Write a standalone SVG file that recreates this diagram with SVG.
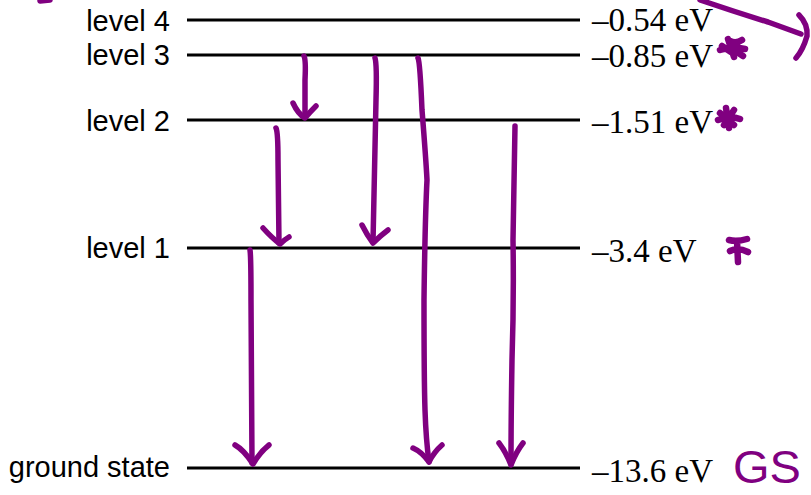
<svg xmlns="http://www.w3.org/2000/svg" width="811" height="495" viewBox="0 0 811 495">
<style>
.lvl{stroke:#000;stroke-width:3;}
.lab{font-family:"Liberation Sans",Arial,sans-serif;font-size:29px;fill:#000;text-anchor:end;}
.en{font-family:"Liberation Serif","Times New Roman",serif;font-size:33px;fill:#000;}
.ink{fill:none;stroke:#800080;stroke-width:5.5;stroke-linecap:round;stroke-linejoin:round;}
.star{fill:none;stroke:#800080;stroke-width:6.5;stroke-linecap:round;stroke-linejoin:round;}
.gs{font-family:"Liberation Sans",Arial,sans-serif;font-size:47px;fill:#800080;}
</style>
<rect width="811" height="495" fill="#fff"/>
<g id="level4"><line class="lvl" x1="187" y1="20" x2="580" y2="20"/><text class="lab" x="170" y="31">level 4</text><text class="en" x="592" y="31">–0.54 eV</text></g>
<g id="level3"><line class="lvl" x1="187" y1="55" x2="580" y2="55"/><text class="lab" x="170" y="65">level 3</text><text class="en" x="592" y="67">–0.85 eV</text></g>
<g id="level2"><line class="lvl" x1="187" y1="120" x2="580" y2="120"/><text class="lab" x="170" y="131">level 2</text><text class="en" x="592" y="133">–1.51 eV</text></g>
<g id="level1"><line class="lvl" x1="187" y1="248" x2="580" y2="248"/><text class="lab" x="170" y="258">level 1</text><text class="en" x="592" y="262">–3.4 eV</text></g>
<g id="ground"><line class="lvl" x1="187" y1="468" x2="580" y2="468"/><text class="lab" x="170" y="477">ground state</text><text class="en" x="592" y="482">–13.6 eV</text></g>
<g id="connectors">
<path class="ink" d="M304 56 Q306 60 305 80 L305 117"/><path class="ink" d="M293 103 Q298 114 305 118 Q310 112 316 106"/>
<path class="ink" d="M276 128 Q278 132 278 160 L279 243"/><path class="ink" d="M263 228 Q272 238 280 244 Q284 240 289 237"/>
<path class="ink" d="M375 58 Q377 64 376 100 L373 242"/><path class="ink" d="M362 225 Q367 235 373 243 Q380 236 388 230"/>
<path class="ink" d="M418 58 Q420 62 422 110 Q426 160 427 180 Q425 220 424 300 Q424 380 425 410 Q426 440 429 462"/><path class="ink" d="M413 448 Q422 452 429 462 Q434 452 442 445"/>
<path class="ink" d="M515 126 Q514 180 513 240 Q514 300 512 360 Q511 420 511 464"/><path class="ink" d="M499 443 Q506 452 511 465 Q516 452 523 443"/>
<path class="ink" d="M250 250 Q251 256 251 300 L252 463"/><path class="ink" d="M235 445 Q244 450 253 464 Q260 452 269 445"/>
</g>
<g id="annotations">
<path class="ink" d="M40 1 Q45 0.5 50 0"/>
<path class="ink" d="M700 0 Q735 12 768 22 Q790 30 801 34"/>
<path class="ink" d="M799 15 Q808 24 807 36 Q803 50 796 58"/>
<path class="star" d="M728 39 L734 57 M720 50 Q732 46 745 49 M730 41 Q736 44 742 40 M722 46 L731 52 M734 50 L743 56"/>
<path class="star" d="M726 108 L729 128 M718 120 Q730 115 740 119 M720 113 L734 125 M734 110 L724 125"/>
<path class="star" d="M729 240 Q737 242 747 239 M737 241 L738 262 M730 251 Q738 247 748 252"/>
<text class="gs" x="733" y="483">GS</text>
</g>
</svg>
